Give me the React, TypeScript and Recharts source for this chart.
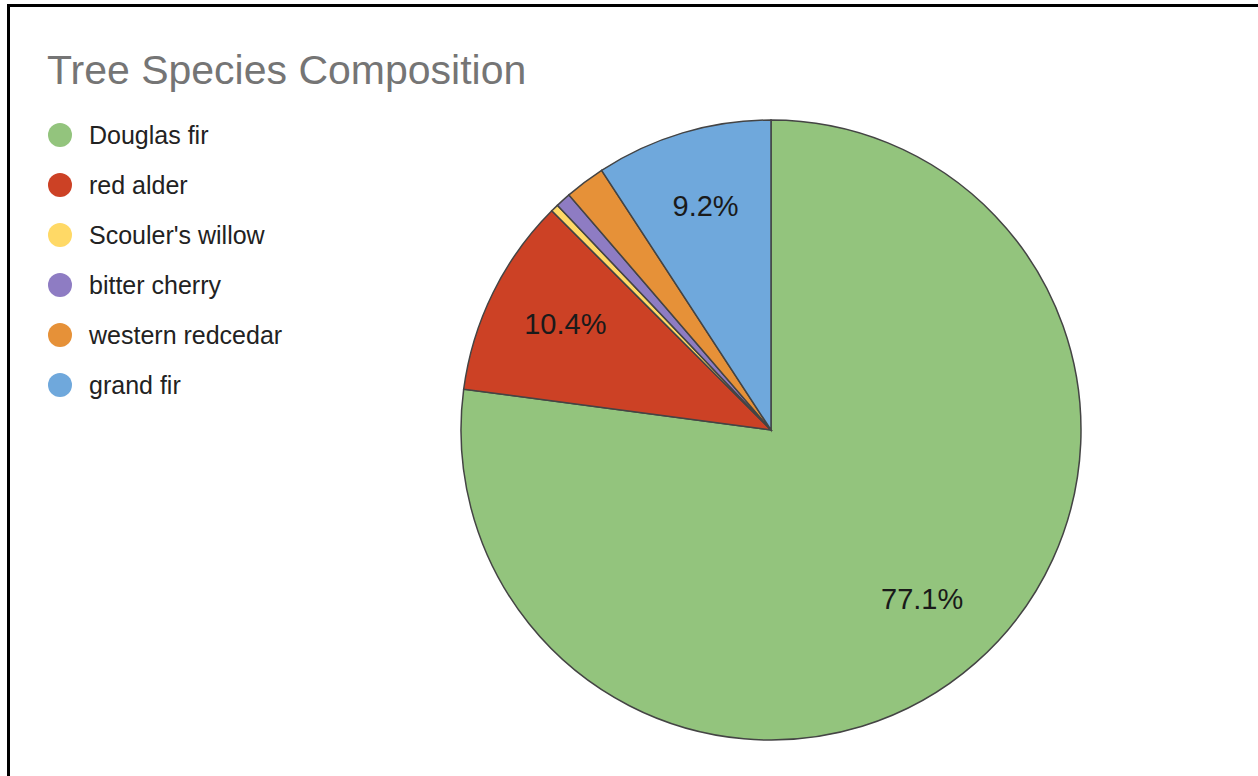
import React from 'react';
import { PieChart, Pie, Cell } from 'recharts';

const species = ['Douglas fir', 'red alder', "Scouler's willow", 'bitter cherry', 'western redcedar', 'grand fir'];
const shares = [77.1, 10.4, 0.4, 0.8, 2.1, 9.2];
const colors = ['#93c47d', '#cc4125', '#ffd966', '#8e7cc3', '#e69138', '#6fa8dc'];

const data = species.map((name, i) => ({ name, value: shares[i], color: colors[i] }));

const FONT = '"Liberation Sans", Arial, sans-serif';
const RAD = Math.PI / 180;

const renderLabel = ({ cx, cy, midAngle, outerRadius, percent }: any) => {
  if (percent < 0.05) return null;
  const r = outerRadius * 0.74;
  const x = cx + r * Math.cos(-midAngle * RAD);
  const y = cy + r * Math.sin(-midAngle * RAD) - 4;
  return (
    <text
      x={x}
      y={y}
      fill="#1a1a1a"
      fontSize={29}
      fontFamily={FONT}
      textAnchor="middle"
      dominantBaseline="central"
    >
      {`${(percent * 100).toFixed(1)}%`}
    </text>
  );
};

export default function App() {
  return (
    <div style={{ position: 'absolute', left: 0, top: 0, width: 1258, height: 776, background: '#fff', overflow: 'hidden' }}>
      <div
        style={{
          position: 'absolute',
          left: 7,
          top: 4,
          width: 1248,
          height: 800,
          borderTop: '3px solid #000',
          borderLeft: '3px solid #000',
          borderRight: '1px solid #999',
        }}
      />
      <div
        style={{
          position: 'absolute',
          left: 47,
          top: 50,
          fontFamily: FONT,
          fontSize: 41,
          lineHeight: '40px',
          color: '#757575',
          whiteSpace: 'nowrap',
        }}
      >
        Tree Species Composition
      </div>
      <div style={{ position: 'absolute', left: 48, top: 110, fontFamily: FONT }}>
        {data.map((d) => (
          <div key={d.name} style={{ display: 'flex', alignItems: 'center', height: 50 }}>
            <span
              style={{
                display: 'inline-block',
                width: 24,
                height: 24,
                borderRadius: '50%',
                background: d.color,
                marginRight: 17,
              }}
            />
            <span style={{ fontSize: 25, color: '#222' }}>{d.name}</span>
          </div>
        ))}
      </div>
      <PieChart
        width={1258}
        height={776}
        margin={{ top: 0, right: 0, bottom: 0, left: 0 }}
        style={{ position: 'absolute', left: 0, top: 0 }}
      >
        <Pie
          data={data}
          dataKey="value"
          nameKey="name"
          cx={771}
          cy={430}
          outerRadius={310}
          startAngle={90}
          endAngle={-270}
          stroke="#444"
          strokeWidth={1.5}
          label={renderLabel}
          labelLine={false}
          isAnimationActive={false}
        >
          {data.map((d) => (
            <Cell key={d.name} fill={d.color} />
          ))}
        </Pie>
      </PieChart>
    </div>
  );
}
